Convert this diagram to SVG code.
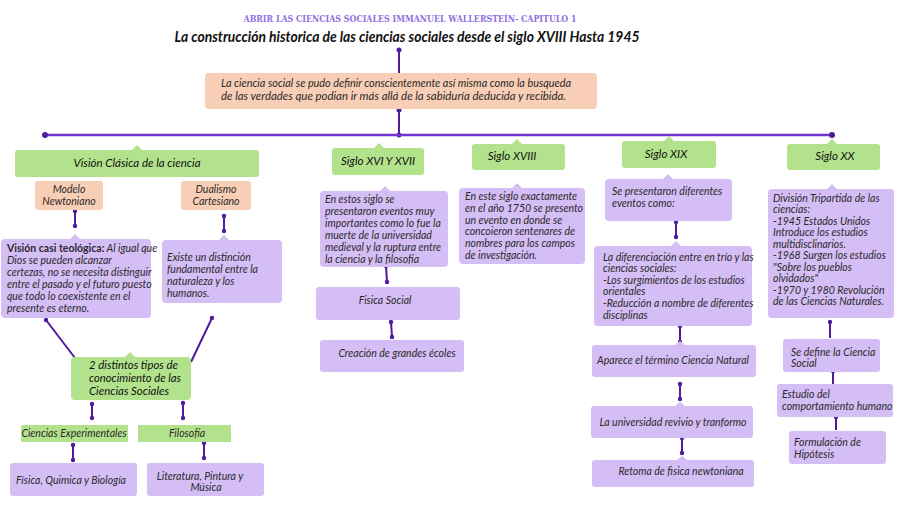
<svg xmlns="http://www.w3.org/2000/svg" width="900" height="506" viewBox="0 0 900 506">
<defs>
<style>
.bg{fill:#ffffff}
.g{fill:#b3e28c}
.p{fill:#d5bdf5}
.o{fill:#f8cfb6}
.t{font-family:Lato,"Open Sans","DejaVu Sans",sans-serif;font-style:italic;font-size:10.5px;fill:#2a2a2a}
.tb{font-family:Lato,"Open Sans","DejaVu Sans",sans-serif;font-style:italic;font-size:11.5px;fill:#111}
.tl{font-family:Lato,"Open Sans","DejaVu Sans",sans-serif;font-style:italic;font-size:10.8px;fill:#111}
.c{text-anchor:middle}
.ln{stroke:#4e1c9e;stroke-width:2;fill:none}
.dot{fill:#4e1c9e}
.hl{stroke:#7434d4;stroke-width:2.5;fill:none}
</style>
</defs>
<rect class="bg" x="0" y="0" width="900" height="506"/>

<text x="410" y="22" text-anchor="middle" font-family="'DejaVu Serif',serif" font-weight="bold" font-size="9" fill="#8e6fe3" textLength="333" lengthAdjust="spacingAndGlyphs">ABRIR LAS CIENCIAS SOCIALES  IMMANUEL WALLERSTEÍN- CAPITULO 1</text>
<text x="407" y="42" text-anchor="middle" font-family="Lato,sans-serif" font-style="italic" font-weight="bold" font-size="16" fill="#111" textLength="465" lengthAdjust="spacingAndGlyphs">La construcción historica de las ciencias sociales desde el siglo XVIII Hasta 1945</text>

<g id="connectors">
<line class="ln" x1="399" y1="50" x2="399" y2="73"/><circle class="dot" cx="399" cy="50" r="2.5"/>
<line class="ln" x1="399" y1="110" x2="399" y2="135"/><circle class="dot" cx="399" cy="110" r="2.5"/><circle class="dot" cx="399" cy="135" r="2.5"/>
<line class="hl" x1="45" y1="135" x2="832" y2="135"/><circle class="dot" cx="45" cy="135" r="3" fill="#6a2cc8"/><circle class="dot" cx="832" cy="135" r="3" fill="#6a2cc8"/>
<line class="ln" x1="75" y1="211" x2="75" y2="226"/><circle class="dot" cx="75" cy="211" r="2.2"/><circle class="dot" cx="75" cy="226" r="2.2"/>
<line class="ln" x1="224" y1="216" x2="224" y2="231"/><circle class="dot" cx="224" cy="216" r="2.2"/><circle class="dot" cx="224" cy="231" r="2.2"/>
<line class="ln" x1="46" y1="320" x2="75" y2="358"/><circle class="dot" cx="46" cy="320" r="2.2"/>
<line class="ln" x1="212" y1="318" x2="191" y2="362"/><circle class="dot" cx="212" cy="318" r="2.2"/>
<line class="ln" x1="92" y1="404" x2="92" y2="418"/><circle class="dot" cx="92" cy="404" r="2.2"/><circle class="dot" cx="92" cy="418" r="2.2"/>
<line class="ln" x1="183" y1="403" x2="183" y2="418"/><circle class="dot" cx="183" cy="403" r="2.2"/><circle class="dot" cx="183" cy="418" r="2.2"/>
<line class="ln" x1="73" y1="445" x2="73" y2="460"/><circle class="dot" cx="73" cy="445" r="2.2"/><circle class="dot" cx="73" cy="460" r="2.2"/>
<line class="ln" x1="204" y1="443" x2="204" y2="458"/><circle class="dot" cx="204" cy="443" r="2.2"/><circle class="dot" cx="204" cy="458" r="2.2"/>
<line class="ln" x1="386" y1="266" x2="387" y2="282"/><circle class="dot" cx="386" cy="266" r="2.2"/><circle class="dot" cx="387" cy="282" r="2.2"/>
<line class="ln" x1="391" y1="322" x2="392" y2="337"/><circle class="dot" cx="391" cy="322" r="2.2"/><circle class="dot" cx="392" cy="337" r="2.2"/>
<line class="ln" x1="676" y1="222" x2="676" y2="237"/><circle class="dot" cx="676" cy="222" r="2.2"/><circle class="dot" cx="676" cy="237" r="2.2"/>
<line class="ln" x1="680" y1="326" x2="680" y2="342"/><circle class="dot" cx="680" cy="326" r="2.2"/><circle class="dot" cx="680" cy="342" r="2.2"/>
<line class="ln" x1="680" y1="384" x2="680" y2="399"/><circle class="dot" cx="680" cy="384" r="2.2"/><circle class="dot" cx="680" cy="399" r="2.2"/>
<line class="ln" x1="682" y1="438" x2="682" y2="453"/><circle class="dot" cx="682" cy="438" r="2.2"/><circle class="dot" cx="682" cy="453" r="2.2"/>
<line class="ln" x1="830" y1="322" x2="830" y2="338"/><circle class="dot" cx="830" cy="322" r="2.2"/>
<line class="ln" x1="833" y1="371" x2="833" y2="384"/><circle class="dot" cx="833" cy="371" r="2.2"/>
<line class="ln" x1="836" y1="417" x2="836" y2="430"/><circle class="dot" cx="836" cy="417" r="2.2"/>
</g>

<g id="intro">
<rect class="o" x="205" y="73" width="392" height="36" rx="4"/>
<text class="t" x="221" y="87" font-size="11" textLength="350" lengthAdjust="spacingAndGlyphs">La ciencia social se pudo definir conscientemente así misma como la busqueda</text>
<text class="t" x="221" y="100" font-size="11" textLength="345" lengthAdjust="spacingAndGlyphs">de las verdades que podian ir más allá de la sabiduría deducida y recibida.</text>
</g>

<g id="vision-clasica">
<rect class="g" x="15" y="150" width="244" height="27" rx="3"/><path class="g" d="M132 150 L137 145 L142 150 Z"/>
<text class="tb c" x="137" y="167">Visión Clásica de la ciencia</text>
</g>
<g id="modelo-newtoniano">
<rect class="o" x="35" y="181" width="68" height="29" rx="3"/>
<text class="t c" x="69" y="193">Modelo</text><text class="t c" x="69" y="205">Newtoniano</text>
</g>
<g id="dualismo-cartesiano">
<rect class="o" x="181" y="181" width="70" height="29" rx="3"/>
<text class="t c" x="216" y="193">Dualismo</text><text class="t c" x="216" y="205">Cartesiano</text>
</g>
<g id="vision-teologica">
<rect class="p" x="1" y="239" width="150" height="79" rx="4"/><path class="p" d="M70 239 L75 234 L80 239 Z"/>
<text class="t" x="7" y="252" font-size="9.8"><tspan font-style="normal" font-weight="bold">Visión casi teológica:</tspan> Al igual que</text>
<text class="t" x="7" y="264">Dios se pueden alcanzar</text>
<text class="t" x="7" y="276">certezas, no se necesita distinguir</text>
<text class="t" x="7" y="288">entre el pasado y el futuro puesto</text>
<text class="t" x="7" y="300">que todo lo coexistente en el</text>
<text class="t" x="7" y="312">presente es eterno.</text>
</g>
<g id="existe">
<rect class="p" x="162" y="240" width="120" height="63" rx="4"/><path class="p" d="M219 240 L224 235 L229 240 Z"/>
<text class="t" x="167" y="261">Existe un distinción</text>
<text class="t" x="167" y="273">fundamental entre la</text>
<text class="t" x="167" y="285">naturaleza y los</text>
<text class="t" x="167" y="297">humanos.</text>
</g>
<g id="dos-tipos">
<rect class="g" x="71" y="357" width="120" height="43" rx="4"/><path class="g" d="M125 357 L130 352 L135 357 Z"/>
<text class="tl" x="89" y="369" textLength="89" lengthAdjust="spacingAndGlyphs">2 distintos tipos de</text>
<text class="tl" x="89" y="382" textLength="92" lengthAdjust="spacingAndGlyphs">conocimiento de las</text>
<text class="tl" x="89" y="395" textLength="80" lengthAdjust="spacingAndGlyphs">Ciencias Sociales</text>
</g>
<g id="ciencias-experimentales">
<rect class="g" x="21" y="425" width="107" height="17"/>
<text class="t c" x="74" y="437">Ciencias Experimentales</text>
</g>
<g id="filosofia">
<rect class="g" x="138" y="425" width="93" height="17"/>
<text class="t c" x="187" y="437">Filosofía</text>
</g>
<g id="fisica-quimica">
<rect class="p" x="10" y="463" width="127" height="33" rx="3"/>
<text class="t c" x="71" y="484">Física, Quimica y Biología</text>
</g>
<g id="literatura">
<rect class="p" x="147" y="463" width="117" height="33" rx="3"/>
<text class="t c" x="200" y="480">Literatura, Pintura y</text>
<text class="t c" x="206" y="491">Música</text>
</g>

<g id="siglo-xvi">
<rect class="g" x="332" y="148" width="92" height="27" rx="3"/><path class="g" d="M374 148 L379 143 L384 148 Z"/>
<text class="tb c" x="378" y="165">Siglo XVI Y XVII</text>
</g>
<g id="siglo-xvi-desc">
<rect class="p" x="320" y="191" width="128" height="76" rx="4"/><path class="p" d="M380 191 L385 186 L390 191 Z"/>
<text class="t" x="325" y="203">En estos siglo se</text>
<text class="t" x="325" y="215">presentaron eventos muy</text>
<text class="t" x="325" y="227">importantes como lo fue la</text>
<text class="t" x="325" y="239">muerte de la universidad</text>
<text class="t" x="325" y="251">medieval y la ruptura entre</text>
<text class="t" x="325" y="263">la ciencia y la filosofía</text>
</g>
<g id="fisica-social">
<rect class="p" x="316" y="287" width="144" height="33" rx="3"/>
<text class="t c" x="385" y="304">Fisica Social</text>
</g>
<g id="grandes-ecoles">
<rect class="p" x="320" y="340" width="144" height="32" rx="3"/>
<text class="t c" x="397" y="357">Creación de grandes écoles</text>
</g>

<g id="siglo-xviii">
<rect class="g" x="472" y="144" width="93" height="26" rx="3"/><path class="g" d="M512 144 L517 139 L522 144 Z"/>
<text class="tb c" x="512" y="160">Siglo XVIII</text>
</g>
<g id="siglo-xviii-desc">
<rect class="p" x="459" y="188" width="126" height="76" rx="4"/><path class="p" d="M512 188 L517 183 L522 188 Z"/>
<text class="t" x="465" y="200">En este siglo exactamente</text>
<text class="t" x="465" y="212">en el año 1750 se presento</text>
<text class="t" x="465" y="224">un evento en donde se</text>
<text class="t" x="465" y="235">concoieron sentenares de</text>
<text class="t" x="465" y="247">nombres para los campos</text>
<text class="t" x="465" y="259">de investigación.</text>
</g>

<g id="siglo-xix">
<rect class="g" x="622" y="141" width="94" height="27" rx="3"/><path class="g" d="M664 141 L669 136 L674 141 Z"/>
<text class="tb c" x="666" y="158">Siglo XIX</text>
</g>
<g id="siglo-xix-desc">
<rect class="p" x="605" y="179" width="127" height="42" rx="4"/><path class="p" d="M663 179 L668 174 L673 179 Z"/>
<text class="t" x="612" y="195">Se presentaron diferentes</text>
<text class="t" x="612" y="207">eventos como:</text>
</g>
<g id="diferenciacion">
<rect class="p" x="594" y="246" width="158" height="80" rx="4"/><path class="p" d="M671 246 L676 241 L681 246 Z"/>
<text class="t" x="603" y="261">La diferenciación entre en trío y las</text>
<text class="t" x="603" y="272">ciencias sociales:</text>
<text class="t" x="603" y="284">-Los surgimientos de los estudios</text>
<text class="t" x="603" y="295">orientales</text>
<text class="t" x="603" y="307">-Reducción a nombre de diferentes</text>
<text class="t" x="603" y="319">disciplinas</text>
</g>
<g id="ciencia-natural">
<rect class="p" x="592" y="345" width="164" height="32" rx="3"/><path class="p" d="M675 345 L680 341 L685 345 Z"/>
<text class="t c" x="673" y="364">Aparece el término Ciencia Natural</text>
</g>
<g id="universidad">
<rect class="p" x="591" y="406" width="162" height="32" rx="3"/><path class="p" d="M675 406 L680 402 L685 406 Z"/>
<text class="t c" x="673" y="426">La universidad revivio y tranformo</text>
</g>
<g id="retoma">
<rect class="p" x="592" y="460" width="162" height="27" rx="3"/><path class="p" d="M677 460 L682 456 L687 460 Z"/>
<text class="t c" x="681" y="475">Retoma de fisica newtoniana</text>
</g>

<g id="siglo-xx">
<rect class="g" x="787" y="144" width="93" height="26" rx="3"/><path class="g" d="M827 144 L832 139 L837 144 Z"/>
<text class="tb c" x="835" y="160">Siglo XX</text>
</g>
<g id="siglo-xx-desc">
<rect class="p" x="768" y="189" width="126" height="129" rx="4"/><path class="p" d="M827 189 L832 184 L837 189 Z"/>
<text class="t" x="773" y="202">División Tripartida de las</text>
<text class="t" x="773" y="213">ciencias:</text>
<text class="t" x="773" y="225">-1945 Estados Unidos</text>
<text class="t" x="773" y="236">Introduce los estudios</text>
<text class="t" x="773" y="248">multidisclinarios.</text>
<text class="t" x="773" y="259">-1968 Surgen los estudios</text>
<text class="t" x="773" y="271">"Sobre los pueblos</text>
<text class="t" x="773" y="282">olvidados"</text>
<text class="t" x="773" y="294">-1970 y 1980 Revolución</text>
<text class="t" x="773" y="305">de las Ciencias Naturales.</text>
</g>
<g id="ciencia-social">
<rect class="p" x="783" y="339" width="97" height="33" rx="3"/>
<text class="t" x="791" y="356">Se define la Ciencia</text>
<text class="t" x="791" y="367">Social</text>
</g>
<g id="comportamiento">
<rect class="p" x="777" y="384" width="116" height="33" rx="3"/>
<text class="t" x="782" y="398">Estudio del</text>
<text class="t" x="782" y="410">comportamiento humano</text>
</g>
<g id="hipotesis">
<rect class="p" x="789" y="431" width="97" height="33" rx="3"/>
<text class="t" x="794" y="446">Formulación de</text>
<text class="t" x="794" y="458">Hipótesis</text>
</g>
</svg>
